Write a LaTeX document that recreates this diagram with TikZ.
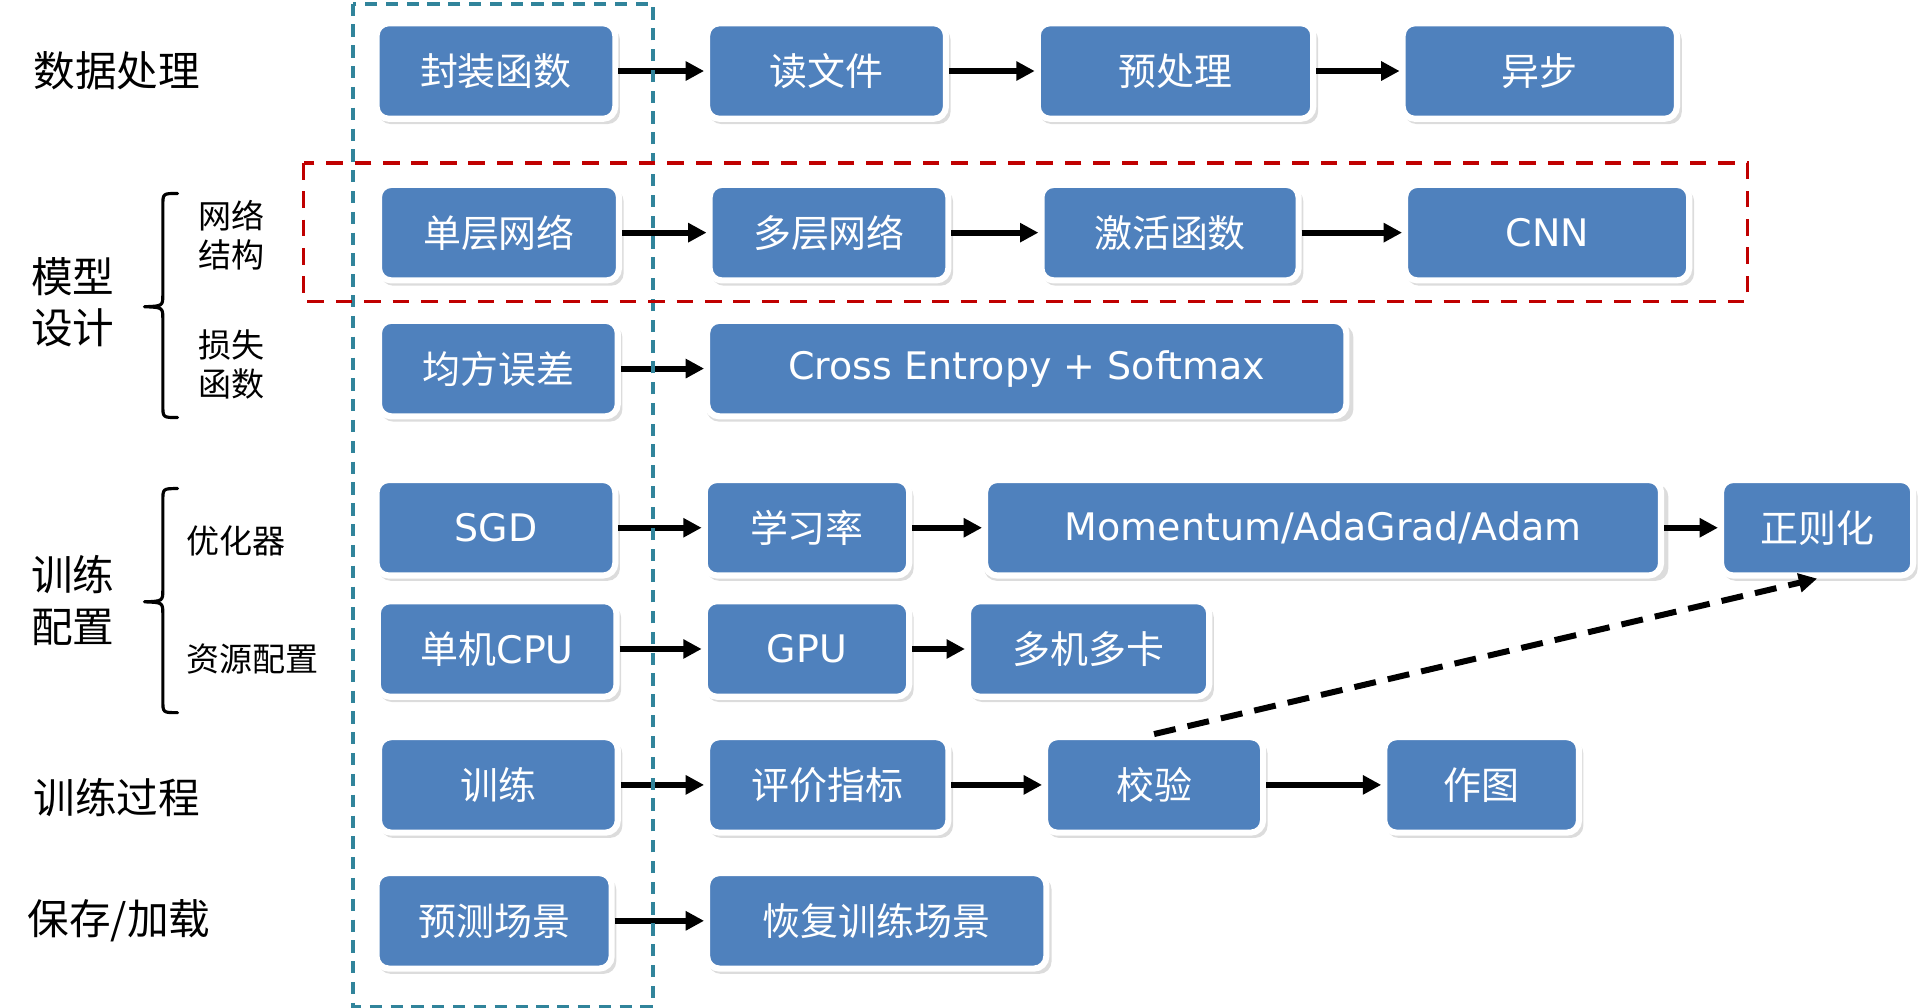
\documentclass[tikz,border=0pt]{standalone}
\usepackage{fontspec}
\setmainfont{DejaVu Sans}
\newfontfamily\cjk{Noto Sans CJK SC}
\usetikzlibrary{arrows.meta,shadows}
\definecolor{boxblue}{HTML}{4F81BD}
\definecolor{tealdash}{HTML}{31849B}
\definecolor{reddash}{HTML}{C00000}
\begin{document}
\begin{tikzpicture}[x=0.5pt,y=-0.5pt,
  box/.style={draw=white, line width=2.5pt, fill=boxblue, rounded corners=5pt,
    minimum height=39pt, inner sep=0pt, text=white,
    font=\fontsize{15.5}{18}\selectfont,
    drop shadow={opacity=0.28, shadow scale=1.012, shadow xshift=1.3pt, shadow yshift=-1.9pt}},
  cjkbox/.style={box, font=\cjk\fontsize{15.5}{18}\selectfont},
  arr/.style={line width=2.45pt, -{Triangle[length=7.5pt,width=7.5pt]}},
  biglbl/.style={anchor=west, inner sep=0pt, align=left, font=\cjk\fontsize{17}{21}\selectfont},
  smalllbl/.style={anchor=west, inner sep=0pt, align=left, font=\cjk\fontsize{13.5}{15.75}\selectfont},
  bracepath/.style={line width=1.3pt, line cap=round, line join=round}
]
\useasboundingbox (0,0) rectangle (1568,823);

% left labels
\node[biglbl] (l1) at (27,58) {数据处理};
\node[biglbl] (l2) at (25,247) {模型\\设计};
\node[smalllbl] (l2a) at (162,192) {网络\\结构};
\node[smalllbl] (l2b) at (162,297.5) {损失\\函数};
\node[biglbl] (l3) at (25,490.5) {训练\\配置};
\node[smalllbl] (l3a) at (152,442) {优化器};
\node[smalllbl] (l3b) at (152,538) {资源配置};
\node[biglbl] (l4) at (27,651) {训练过程};
\node[biglbl] (l5) at (22,752) {保存/加载};

% braces
\draw[bracepath] (145,158) .. controls (133,158) .. (133,168) -- (133,240)
  .. controls (133,250) .. (118,250.5) .. controls (133,251) .. (133,261)
  -- (133,331) .. controls (133,341) .. (145,341);
\draw[bracepath] (145,399) .. controls (133,399) .. (133,409) -- (133,481)
  .. controls (133,491) .. (118,491.5) .. controls (133,492) .. (133,502)
  -- (133,572) .. controls (133,582) .. (145,582);

% row 1
\node[cjkbox, minimum width=97.5pt] (b11) at (405,58) {封装函数};
\node[cjkbox, minimum width=97.5pt] (b12) at (675,58) {读文件};
\node[cjkbox, minimum width=112.5pt] (b13) at (960,58) {预处理};
\node[cjkbox, minimum width=112pt] (b14) at (1257.5,58) {异步};
% row 2
\node[cjkbox, minimum width=98pt] (b21) at (407.5,190) {单层网络};
\node[cjkbox, minimum width=97.5pt] (b22) at (677,190) {多层网络};
\node[cjkbox, minimum width=105pt] (b23) at (955.5,190) {激活函数};
\node[box, minimum width=116pt] (b24) at (1263.5,190) {CNN};
% row 3
\node[cjkbox, minimum width=97.5pt] (b31) at (407,301) {均方误差};
\node[box, minimum width=261pt] (b32) at (838.5,301) {Cross Entropy + Softmax};
% row 4
\node[box, minimum width=97.5pt] (b41) at (405,431) {SGD};
\node[cjkbox, minimum width=83.5pt] (b42) at (659,431) {学习率};
\node[box, minimum width=276pt] (b43) at (1080.5,431) {Momentum/AdaGrad/Adam};
\node[cjkbox, minimum width=78.5pt] (b44) at (1484,431) {正则化};
% row 5
\node[box, minimum width=97.5pt] (b51) at (406,530) {{\cjk 单机}CPU};
\node[box, minimum width=83.5pt] (b52) at (659,530) {GPU};
\node[cjkbox, minimum width=98.5pt] (b53) at (889,530) {多机多卡};
% row 6
\node[cjkbox, minimum width=97.5pt] (b61) at (407,641) {训练};
\node[cjkbox, minimum width=98.5pt] (b62) at (676,641) {评价指标};
\node[cjkbox, minimum width=89pt] (b63) at (942.5,641) {校验};
\node[cjkbox, minimum width=79.5pt] (b64) at (1210,641) {作图};
% row 7
\node[cjkbox, minimum width=96pt] (b71) at (403.5,752) {预测场景};
\node[cjkbox, minimum width=138.5pt] (b72) at (716,752) {恢复训练场景};

% arrows
\draw[arr] (b11) -- (b12);
\draw[arr] (b12) -- (b13);
\draw[arr] (b13) -- (b14);
\draw[arr] (b21) -- (b22);
\draw[arr] (b22) -- (b23);
\draw[arr] (b23) -- (b24);
\draw[arr] (b31) -- (b32);
\draw[arr] (b41) -- (b42);
\draw[arr] (b42) -- (b43);
\draw[arr] (b43) -- (b44);
\draw[arr] (b51) -- (b52);
\draw[arr] (b52) -- (b53);
\draw[arr] (b61) -- (b62);
\draw[arr] (b62) -- (b63);
\draw[arr] (b63) -- (b64);
\draw[arr] (b71) -- (b72);
\draw[arr, dash pattern=on 9pt off 5pt] (b63.north) -- (b44.south);

% dashed frames
\draw[tealdash, line width=1.6pt, dash pattern=on 5pt off 3.5pt] (288,3) rectangle (533,822);
\draw[reddash, line width=1.35pt, dash pattern=on 6.8pt off 4.8pt] (248,133) rectangle (1427,246);
\end{tikzpicture}
\end{document}
